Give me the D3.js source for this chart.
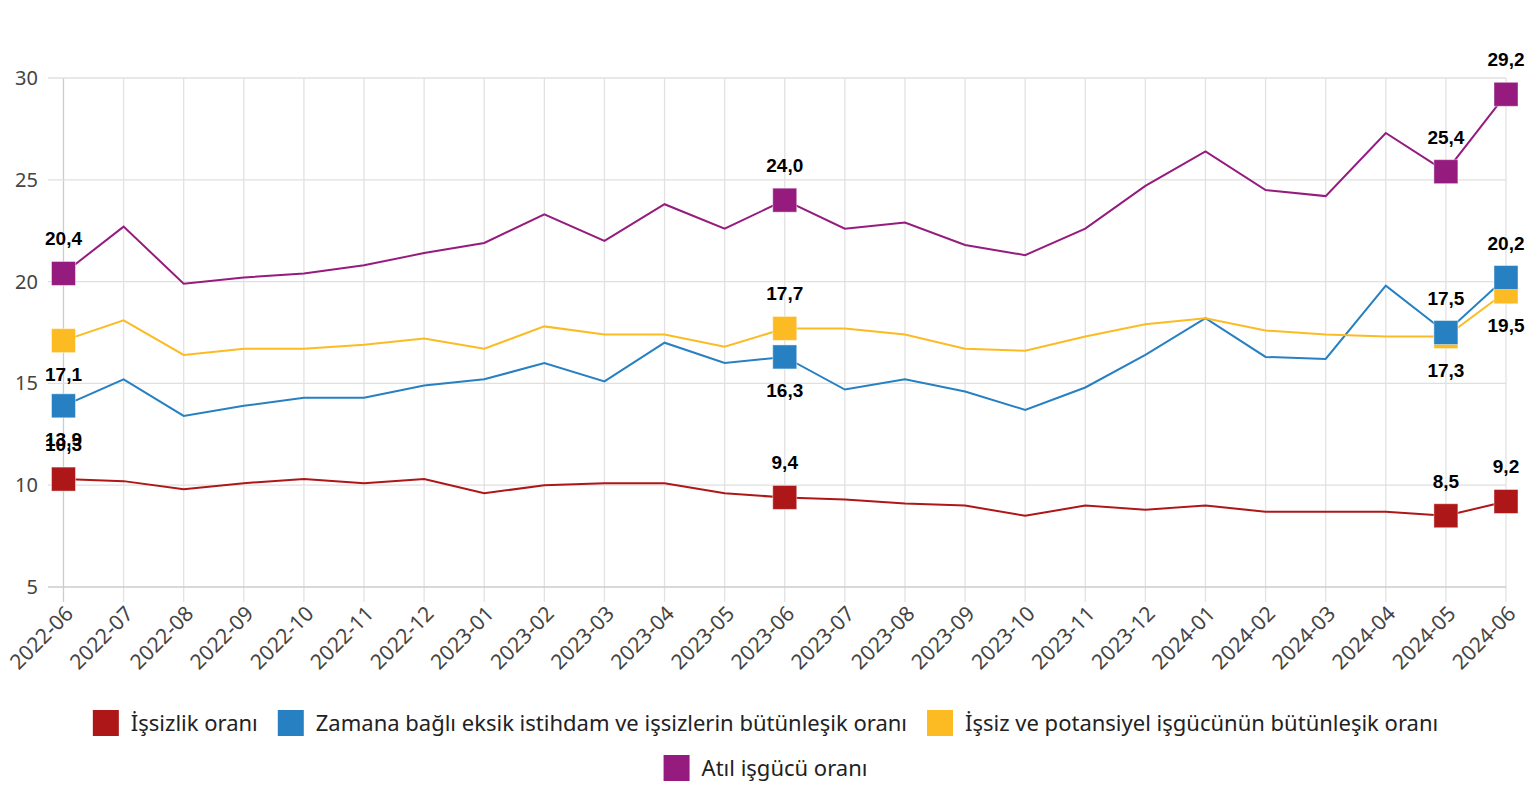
<!DOCTYPE html>
<html lang="tr">
<head>
  <meta charset="utf-8">
  <title>İşgücü oranları</title>
  <script src="https://d3js.org/d3.v7.min.js"></script>
  <style>
    body { margin: 0; background: #fff; }
    .eksen text { font-family: "Noto Sans", "Open Sans", sans-serif; fill: #444; }
    .etiket { font-family: "Liberation Sans", Arial, sans-serif; font-weight: bold; font-size: 19px; fill: #000; }
    .lejant text { font-family: "Noto Sans", "Open Sans", sans-serif; font-size: 22px; fill: #222; }
  </style>
</head>
<body>
  <div id="chart"></div>

  <script>
    "use strict"

    const aylar = ["2022-06", "2022-07", "2022-08", "2022-09", "2022-10", "2022-11", "2022-12",
      "2023-01", "2023-02", "2023-03", "2023-04", "2023-05", "2023-06", "2023-07", "2023-08",
      "2023-09", "2023-10", "2023-11", "2023-12", "2024-01", "2024-02", "2024-03", "2024-04",
      "2024-05", "2024-06"];

    const issizlik = [10.3, 10.2, 9.8, 10.1, 10.3, 10.1, 10.3, 9.6, 10.0, 10.1, 10.1, 9.6, 9.4,
      9.3, 9.1, 9.0, 8.5, 9.0, 8.8, 9.0, 8.7, 8.7, 8.7, 8.5, 9.2];
    const zamanaBagli = [13.9, 15.2, 13.4, 13.9, 14.3, 14.3, 14.9, 15.2, 16.0, 15.1, 17.0, 16.0, 16.3,
      14.7, 15.2, 14.6, 13.7, 14.8, 16.4, 18.2, 16.3, 16.2, 19.8, 17.5, 20.2];
    const potansiyel = [17.1, 18.1, 16.4, 16.7, 16.7, 16.9, 17.2, 16.7, 17.8, 17.4, 17.4, 16.8, 17.7,
      17.7, 17.4, 16.7, 16.6, 17.3, 17.9, 18.2, 17.6, 17.4, 17.3, 17.3, 19.5];
    const atil = [20.4, 22.7, 19.9, 20.2, 20.4, 20.8, 21.4, 21.9, 23.3, 22.0, 23.8, 22.6, 24.0,
      22.6, 22.9, 21.8, 21.3, 22.6, 24.7, 26.4, 24.5, 24.2, 27.3, 25.4, 29.2];

    const seriAdlari = ["İşsizlik oranı", "Zamana bağlı eksik istihdam ve işsizlerin bütünleşik oranı",
      "İşsiz ve potansiyel işgücünün bütünleşik oranı", "Atıl işgücü oranı"];
    const yTikler = [5, 10, 15, 20, 25, 30];
    const isaretliAylar = ["2022-06", "2023-06", "2024-05", "2024-06"];

    // style only
    const renkler = ["#ae1718", "#2680c2", "#fcbb23", "#951b7e"];
    const etiketYonu = [
      ["ust", "ust", "ust", "ust"],
      ["alt", "alt", "ust", "ust"],
      ["alt", "ust", "alt", "alt"],
      ["ust", "ust", "ust", "ust"]
    ];

    const seriler = [issizlik, zamanaBagli, potansiyel, atil].map((v, i) => ({
      ad: seriAdlari[i], renk: renkler[i], degerler: v, yon: etiketYonu[i]
    }));

    const W = 1531, H = 800;
    const svg = d3.select("#chart").append("svg").attr("width", W).attr("height", H);

    const x = d3.scalePoint().domain(aylar).range([63.5, 1506]);
    const y = d3.scaleLinear().domain([5, 30]).range([587, 78]);

    // grid
    const izgara = svg.append("g");
    izgara.selectAll("line.dikey").data(aylar).enter().append("line")
      .attr("x1", d => x(d)).attr("x2", d => x(d))
      .attr("y1", y(30)).attr("y2", y(5) + 15)
      .attr("stroke", (d, i) => i === 0 ? "#ccc" : "#e2e2e2").attr("stroke-width", 1.3);
    izgara.selectAll("line.yatay").data(yTikler).enter().append("line")
      .attr("x1", 48).attr("x2", 1506)
      .attr("y1", d => y(d)).attr("y2", d => y(d))
      .attr("stroke", d => d === 5 ? "#ccc" : "#e0e0e0").attr("stroke-width", 1.3);

    // y axis labels
    const yEksen = svg.append("g").attr("class", "eksen");
    yEksen.selectAll("text").data(yTikler).enter().append("text")
      .attr("x", 38).attr("y", d => y(d)).attr("dy", "0.35em")
      .attr("text-anchor", "end").attr("font-size", 20)
      .text(d => d);

    // x axis labels
    const xEksen = svg.append("g").attr("class", "eksen");
    xEksen.selectAll("text").data(aylar).enter().append("text")
      .attr("transform", d => "translate(" + (x(d) + 11) + "," + 615 + ") rotate(-45)")
      .attr("text-anchor", "end").attr("font-size", 21)
      .text(d => d);

    // lines
    const cizgi = d3.line().x((d, i) => x(aylar[i])).y(d => y(d));
    svg.append("g").selectAll("path").data(seriler).enter().append("path")
      .attr("d", s => cizgi(s.degerler))
      .attr("fill", "none").attr("stroke", s => s.renk).attr("stroke-width", 2);

    // markers, reversed so blue sits above yellow
    const isaretler = svg.append("g");
    seriler.slice().reverse().forEach(s => {
      const noktalar = isaretliAylar.map((a, k) => ({ ay: a, v: s.degerler[aylar.indexOf(a)], yon: s.yon[k] }));
      isaretler.selectAll(null).data(noktalar).enter().append("rect")
        .attr("x", d => x(d.ay) - 12).attr("y", d => y(d.v) - 12)
        .attr("width", 24).attr("height", 24)
        .attr("fill", s.renk).attr("stroke", "rgba(255,255,255,0.45)").attr("stroke-width", 1);
    });

    // value labels
    const etiketler = svg.append("g");
    seriler.forEach(s => {
      const noktalar = isaretliAylar.map((a, k) => ({ ay: a, v: s.degerler[aylar.indexOf(a)], yon: s.yon[k] }));
      etiketler.selectAll(null).data(noktalar).enter().append("text")
        .attr("class", "etiket")
        .attr("x", d => x(d.ay))
        .attr("y", d => d.yon === "ust" ? y(d.v) - 28 : y(d.v) + 40)
        .attr("text-anchor", "middle")
        .text(d => d.v.toFixed(1).replace(".", ","));
    });

    // legend, centred and wrapped
    const lejant = svg.append("g").attr("class", "lejant");
    const kutu = 26, bosluk = 12, araBosluk = 20, maxGen = 1420;
    const ogeler = seriler.map(s => {
      const g = lejant.append("g");
      g.append("rect").attr("width", kutu).attr("height", kutu).attr("fill", s.renk);
      const t = g.append("text").attr("x", kutu + bosluk).attr("y", kutu / 2).attr("dy", "0.35em").text(s.ad);
      return { g: g, gen: kutu + bosluk + t.node().getComputedTextLength() };
    });
    const satirlar = [[]];
    let satirGen = 0;
    ogeler.forEach(o => {
      const ek = (satirlar[satirlar.length - 1].length ? araBosluk : 0) + o.gen;
      if (satirGen + ek > maxGen && satirlar[satirlar.length - 1].length) {
        satirlar.push([o]); satirGen = o.gen;
      } else {
        satirlar[satirlar.length - 1].push(o); satirGen += ek;
      }
    });
    satirlar.forEach((satir, r) => {
      const toplam = d3.sum(satir, o => o.gen) + araBosluk * (satir.length - 1);
      let cx = W / 2 - toplam / 2;
      satir.forEach(o => {
        o.g.attr("transform", "translate(" + cx + "," + (710 + r * 45) + ")");
        cx += o.gen + araBosluk;
      });
    });
  </script>
</body>
</html>
